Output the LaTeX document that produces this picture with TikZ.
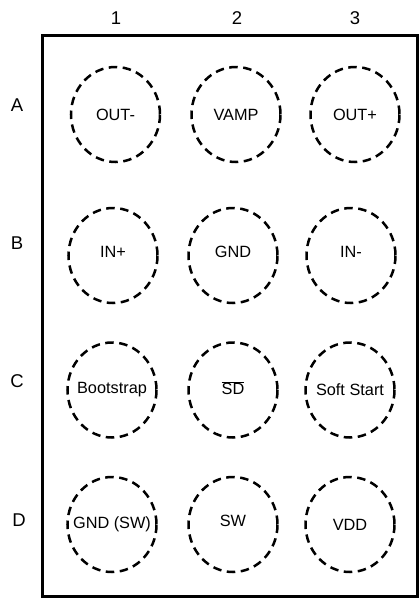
\documentclass[tikz,border=0pt]{standalone}
\usepackage{fontspec}
\setmainfont{Liberation Sans}
\begin{document}
\begin{tikzpicture}[x=1pt,y=-1pt,
  padtext/.style={inner sep=0pt,font=\fontsize{16.3}{19}\selectfont},
  padring/.style={draw=black,dash pattern=on 8.5pt off 5.5pt,line width=2.5pt},
  axislabel/.style={font=\fontsize{18.5}{20}\selectfont,inner sep=0pt}]
\useasboundingbox (0,0) rectangle (420,600);
\draw[line width=3pt] (42.5,35) rectangle (417,596.5);
% column labels
\node[axislabel] (c1) at (116,18.5) {1};
\node[axislabel] (c2) at (237,18) {2};
\node[axislabel] (c3) at (355,18) {3};
% row labels
\node[axislabel] (rA) at (17,105) {A};
\node[axislabel] (rB) at (17,243) {B};
\node[axislabel] (rC) at (17,381) {C};
\node[axislabel] (rD) at (19,520) {D};
% pads
\node[padtext] (A1) at (115.5,114.5) {OUT-};
\node[padtext] (A2) at (236,114.5) {VAMP};
\node[padtext] (A3) at (355,114.5) {OUT+};
\node[padtext] (B1) at (113,252) {IN+};
\node[padtext] (B2) at (233,252) {GND};
\node[padtext] (B3) at (351,252) {IN-};
\node[padtext] (C1) at (112,390) {Bootstrap};
\node[padtext] (C2) at (233,388) {$\overline{\mbox{SD}}$};
\node[padtext] (C3) at (350,390) {Soft Start};
\node[padtext] (D1) at (112,524.5) {GND (SW)};
\node[padtext] (D2) at (233,521) {SW};
\node[padtext] (D3) at (350,524.5) {VDD};
\foreach \p/\dy in {A1/0,A2/0,A3/0,B1/3.5,B2/3.5,B3/3.5,C1/0,C2/2,C3/0,D1/0,D2/3.5,D3/0}
  \draw[padring] ([yshift=-\dy pt]\p.center) ellipse [x radius=44.5, y radius=47.5];
\end{tikzpicture}
\end{document}
